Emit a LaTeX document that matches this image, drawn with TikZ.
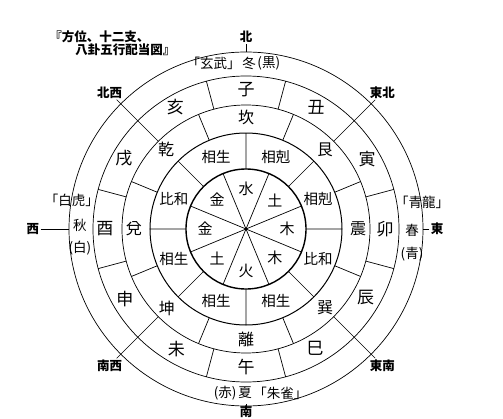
\documentclass[tikz,border=0pt]{standalone}
\usepackage{fontspec}
\setmainfont{Noto Sans CJK JP}
\usetikzlibrary{positioning}

\begin{document}
\begin{tikzpicture}[x=1pt, y=1pt, line width=0.7pt,
  branch/.style={inner sep=1pt, font=\fontsize{17}{17}\selectfont},
  trigram/.style={inner sep=1pt, font=\fontsize{16}{16}\selectfont},
  relation/.style={inner sep=1pt, font=\fontsize{14.5}{14.5}\selectfont},
  element/.style={inner sep=1pt, font=\fontsize{15}{15}\selectfont},
  season/.style={inner sep=0.5pt, font=\fontsize{13.5}{13.5}\selectfont},
  compass/.style={inner sep=1pt, font=\bfseries\fontsize{12.5}{12.5}\selectfont},
  heading/.style={inner sep=0pt, font=\bfseries\fontsize{12.5}{12.5}\selectfont}]
\path[use as bounding box, fill=white] (-246,-189) rectangle (257,229);

% rings
\draw (0,0) circle (177);
\draw (0,0) circle (153);
\draw (0,0) circle (124);
\draw[line width=1pt] (0,0) circle (96);
\draw[line width=1.4pt] (0,0) circle (60);

% five elements
\draw (22.5:0) -- (22.5:60) (67.5:0) -- (67.5:60) (112.5:0) -- (112.5:60) (157.5:0) -- (157.5:60)
      (202.5:0) -- (202.5:60) (247.5:0) -- (247.5:60) (292.5:0) -- (292.5:60) (337.5:0) -- (337.5:60);
\node (sui)[element] at (90:40) {水};
\node (do1)[element] at (45:41) {土};
\node (moku1)[element] at (0:41) {木};
\node (moku2)[element] at (-45:41) {木};
\node (ka)[element] at (-90:42) {火};
\node (do2)[element] at (-135:41) {土};
\node (kin1)[element] at (180:41) {金};
\node (kin2)[element] at (135:41) {金};

% relations
\draw (0:60) -- (0:96) (45:60) -- (45:96) (90:60) -- (90:96) (135:60) -- (135:96)
      (180:60) -- (180:96) (225:60) -- (225:96) (270:60) -- (270:96) (315:60) -- (315:96);
\node (rel1)[relation] at (67.5:78) {相剋};
\node (rel2)[relation] at (22.5:78) {相剋};
\node (rel3)[relation] at (-22.5:78) {比和};
\node (rel4)[relation] at (-67.5:78) {相生};
\node (rel5)[relation] at (-112.5:78) {相生};
\node (rel6)[relation] at (-157.5:78) {相生};
\node (rel7)[relation] at (157.5:78) {比和};
\node (rel8)[relation] at (112.5:78) {相生};

% eight trigrams
\draw (22.5:96) -- (22.5:124) (67.5:96) -- (67.5:124) (112.5:96) -- (112.5:124) (157.5:96) -- (157.5:124)
      (202.5:96) -- (202.5:124) (247.5:96) -- (247.5:124) (292.5:96) -- (292.5:124) (337.5:96) -- (337.5:124);
\node (kan)[trigram] at (90:112) {坎};
\node (gon)[trigram] at (45:112) {艮};
\node (shin)[trigram] at (0:112) {震};
\node (son)[trigram] at (-45:112) {巽};
\node (ri)[trigram] at (-90:110) {離};
\node (kon)[trigram] at (-135:112) {坤};
\node (da)[trigram] at (180:112) {兌};
\node (ken)[trigram] at (135:113) {乾};

% twelve branches
\draw (15:124) -- (15:153) (75:124) -- (75:153) (105:124) -- (105:153) (165:124) -- (165:153)
      (195:124) -- (195:153) (255:124) -- (255:153) (285:124) -- (285:153) (345:124) -- (345:153);
\node (ne)[branch] at (90:139) {子};
\node (ushi)[branch] at (60:140) {丑};
\node (tora)[branch] at (30:140) {寅};
\node (u)[branch] at (0:139) {卯};
\node (tatsu)[branch] at (-30:138) {辰};
\node (mi)[branch] at (-60:138) {巳};
\node (uma)[branch] at (-90:138) {午};
\node (hitsuji)[branch] at (-120:139) {未};
\node (saru)[branch] at (-150:140) {申};
\node (tori)[branch] at (180:141) {酉};
\node (inu)[branch] at (150:141) {戌};
\node (i)[branch] at (120:141) {亥};

% corners
\node (hokusei)[compass] at (135:193) {北西};
\node (tohoku)[compass] at (45:193) {東北};
\node (nansei)[compass] at (-135:193) {南西};
\node (tonan)[compass] at (-45:193) {東南};
\coordinate (nw) at (135:124);
\coordinate (ne1) at (45:124);
\coordinate (sw) at (-135:124);
\coordinate (se) at (-45:124);
\draw (nw) -- (hokusei);
\draw (ne1) -- (tohoku);
\draw (sw) -- (nansei);
\draw (se) -- (tonan);

% seasons
\node (fuyu)[season] at (3,166) {冬};
\node (genbu)[season, left=0pt of fuyu] {「玄武」};
\node (kuro)[season, right=0pt of fuyu] {(黒)};
\node (natsu)[season] at (-1,-164) {夏};
\node (aka)[season, left=0pt of natsu] {(赤)};
\node (suzaku)[season, right=0pt of natsu] {「朱雀」};
\node (aki)[season] at (-166,4) {秋};
\node (shiro)[season, below=8pt of aki] {(白)};
\node (byakko)[season] at (-174,29) {「白虎」};
\node (haru)[season] at (166,-1) {春};
\node (ao)[season, below=9pt of haru] {(青)};
\node (seiryu)[season] at (176,27) {「青龍」};

% cardinal points
\node (kita)[compass] at (90:192) {北};
\node (minami)[compass] at (-90:182.5) {南};
\node (nishi)[compass] at (180:213) {西};
\node (higashi)[compass] at (0:191) {東};
\coordinate (n) at (90:177);
\coordinate (s) at (-90:177);
\coordinate (w) at (180:177);
\coordinate (e) at (0:177);
\draw (kita) -- (n);
\draw (minami) -- (s);
\draw (nishi) -- (w);
\draw (higashi) -- (e);

% title
\node (title1)[heading, anchor=west] at (-197,192) {『方位、十二支、};
\node (title2)[heading, anchor=west] at (-171,179) {八卦五行配当図』};
\end{tikzpicture}
\end{document}
